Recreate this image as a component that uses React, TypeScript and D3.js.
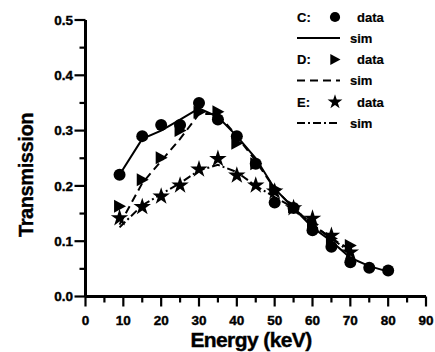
import React from "react";
import * as d3 from "d3";

const W = 435, H = 352;

const cEnergy = [9, 15, 20, 25, 30, 35, 40, 45, 50, 55, 60, 65, 70, 75, 80];
const cData = [0.22, 0.29, 0.31, 0.31, 0.35, 0.32, 0.29, 0.24, 0.17, 0.16, 0.12, 0.09, 0.062, 0.052, 0.047];
const cSim = [0.22, 0.285, 0.3, 0.32, 0.34, 0.325, 0.29, 0.25, 0.195, 0.16, 0.125, 0.1, 0.07, 0.055, 0.045];

const dEnergy = [9, 15, 20, 25, 30, 35, 40, 45, 50, 55, 60, 65, 70];
const dData = [0.163, 0.211, 0.251, 0.3, 0.333, 0.334, 0.277, 0.24, 0.195, 0.162, 0.13, 0.105, 0.092];
const dSim = [0.13, 0.205, 0.245, 0.285, 0.33, 0.33, 0.29, 0.245, 0.195, 0.16, 0.13, 0.105, 0.085];

const eEnergy = [9, 15, 20, 25, 30, 35, 40, 45, 50, 55, 60, 65, 70];
const eData = [0.142, 0.162, 0.181, 0.201, 0.23, 0.249, 0.219, 0.201, 0.19, 0.16, 0.141, 0.11, 0.08];
const eSim = [0.125, 0.165, 0.185, 0.205, 0.228, 0.238, 0.225, 0.2, 0.18, 0.16, 0.13, 0.105, 0.08];

const xTicks = [0, 10, 20, 30, 40, 50, 60, 70, 80, 90];
const yTicks = [0, 0.1, 0.2, 0.3, 0.4, 0.5];
const legendRows = [
  { label: "C:", kind: "circle", dash: "" },
  { label: "D:", kind: "triangle", dash: "8,5" },
  { label: "E:", kind: "star", dash: "8,3,2,3" },
];

const FONT = "'Liberation Sans', Arial, sans-serif";

export default function App() {
  const x = d3.scaleLinear().domain([0, 90]).range([85.5, 426]);
  const y = d3.scaleLinear().domain([0, 0.5]).range([296.5, 20]);
  const line = d3.line<[number, number]>().x(d => x(d[0])).y(d => y(d[1]));
  const starPath = d3.symbol().type(d3.symbolStar).size(95)()!;
  const triPath = "M-5.5,-6.5L6.5,0L-5.5,6.5Z";

  const marker = (kind: string, cx: number, cy: number, key: string | number, scale = 1) => {
    if (kind === "circle") return <circle key={key} cx={cx} cy={cy} r={6 * scale} fill="#000" />;
    if (kind === "triangle") return <path key={key} d={triPath} transform={`translate(${cx},${cy}) scale(${scale})`} fill="#000" />;
    return <path key={key} d={starPath} transform={`translate(${cx},${cy}) scale(${scale})`} fill="#000" />;
  };

  const xMinor = d3.range(5, 90, 10);
  const yMinor = d3.range(0.05, 0.5, 0.1);
  const heavy = { stroke: "#000", strokeWidth: 0.4 };
  const light = { stroke: "#000", strokeWidth: 0.2 };

  return (
    <svg width={W} height={H} style={{ position: "absolute", left: 0, top: 0, background: "#fff" }} fontFamily={FONT}>
      {/* sims */}
      <path d={line(cEnergy.map((e, i) => [e, cSim[i]]))!} fill="none" stroke="#000" strokeWidth={2} />
      <path d={line(dEnergy.map((e, i) => [e, dSim[i]]))!} fill="none" stroke="#000" strokeWidth={2} strokeDasharray="8,5" />
      <path d={line(eEnergy.map((e, i) => [e, eSim[i]]))!} fill="none" stroke="#000" strokeWidth={2} strokeDasharray="8,3,2,3" />
      {/* data */}
      {eEnergy.map((e, i) => marker("star", x(e), y(eData[i]), "e" + i))}
      {dEnergy.map((e, i) => marker("triangle", x(e), y(dData[i]), "d" + i))}
      {cEnergy.map((e, i) => marker("circle", x(e), y(cData[i]), "c" + i))}

      {/* axes */}
      <line x1={x(0)} x2={x(0)} y1={y(0.5)} y2={y(0)} stroke="#000" strokeWidth={3} />
      <line x1={x(0)} x2={x(90)} y1={y(0)} y2={y(0)} stroke="#000" strokeWidth={3} />
      {yTicks.map(t => (
        <g key={"yt" + t}>
          <line x1={x(0) - 11} x2={x(0)} y1={y(t)} y2={y(t)} stroke="#000" strokeWidth={2.2} />
          <text x={73} y={y(t)} dy="0.36em" textAnchor="end" fontSize={13.5} fontWeight="bold" {...heavy}>{t.toFixed(1)}</text>
        </g>
      ))}
      {yMinor.map(t => <line key={"ym" + t} x1={x(0) - 6} x2={x(0)} y1={y(t)} y2={y(t)} stroke="#000" strokeWidth={2.2} />)}
      {xTicks.map(t => (
        <g key={"xt" + t}>
          <line x1={x(t)} x2={x(t)} y1={y(0)} y2={y(0) + 10} stroke="#000" strokeWidth={2.2} />
          <text x={x(t)} y={320} dy="0.36em" textAnchor="middle" fontSize={13.5} fontWeight="bold" {...heavy}>{t}</text>
        </g>
      ))}
      {xMinor.map(t => <line key={"xm" + t} x1={x(t)} x2={x(t)} y1={y(0)} y2={y(0) + 6} stroke="#000" strokeWidth={2.2} />)}

      <text x={251} y={347} textAnchor="middle" fontSize={21} fontWeight="bold" letterSpacing={-0.6} {...heavy}>Energy (keV)</text>
      <text transform={`translate(33,175) rotate(-90)`} textAnchor="middle" fontSize={20} fontWeight="bold" letterSpacing={-0.4} {...heavy}>Transmission</text>

      {/* legend */}
      {legendRows.map((r, i) => {
        const y0 = 17 + i * 42.5;
        const y1 = y0 + 21;
        return (
          <g key={"lg" + i}>
            <text x={297} y={y0} dy="0.36em" fontSize={13} fontWeight="bold" {...light}>{r.label}</text>
            {marker(r.kind, 335, y0, "lm" + i, 0.85)}
            <text x={357} y={y0} dy="0.36em" fontSize={13} fontWeight="bold" {...light}>data</text>
            <line x1={297} x2={340} y1={y1} y2={y1} stroke="#000" strokeWidth={2} strokeDasharray={r.dash || undefined} />
            <text x={350} y={y1} dy="0.36em" fontSize={13} fontWeight="bold" {...light}>sim</text>
          </g>
        );
      })}
    </svg>
  );
}
